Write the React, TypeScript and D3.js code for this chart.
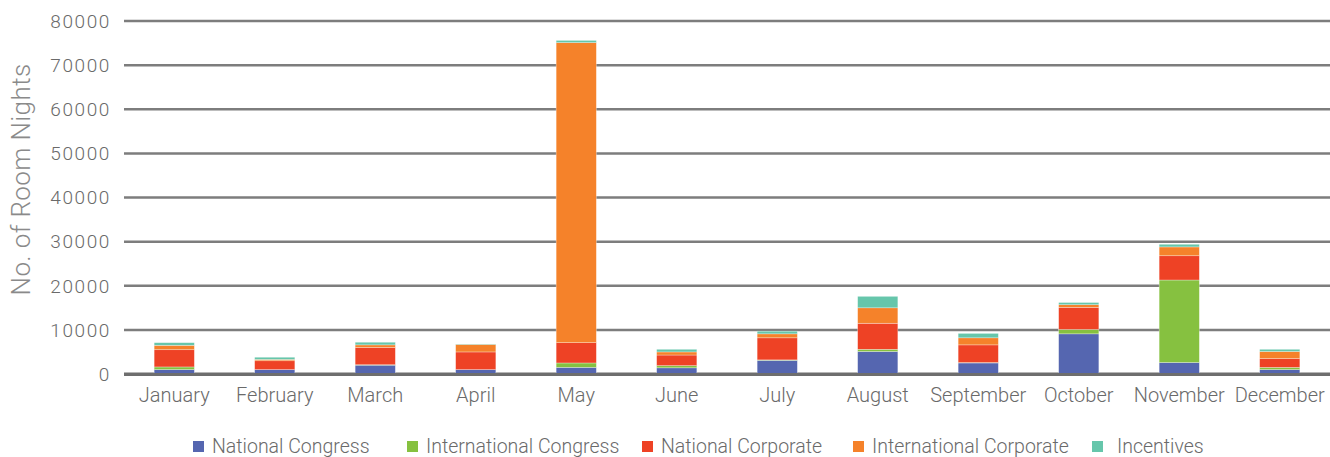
import React from 'react';
import * as d3 from 'd3';

const MONTHS = ["January", "February", "March", "April", "May", "June", "July", "August", "September", "October", "November", "December"];

const SERIES = ["National Congress", "International Congress", "National Corporate", "International Corporate", "Incentives"];
const COLORS = ["#5566b0", "#86c140", "#ee4225", "#f5822a", "#66c6ab"];

const NATIONAL_CONGRESS = [1000, 1000, 2000, 1000, 1500, 1400, 3100, 5100, 2500, 9100, 2600, 1000];
const INTERNATIONAL_CONGRESS = [600, 0, 100, 0, 1000, 500, 100, 500, 100, 1000, 18700, 500];
const NATIONAL_CORPORATE = [3900, 2000, 3900, 4000, 4600, 2400, 5000, 5900, 4000, 5000, 5500, 2000];
const INTERNATIONAL_CORPORATE = [1000, 300, 600, 1700, 68000, 700, 900, 3500, 1600, 600, 2000, 1600];
const INCENTIVES = [600, 500, 600, 100, 500, 600, 600, 2600, 1000, 500, 600, 500];

const Y_TICKS = [0, 10000, 20000, 30000, 40000, 50000, 60000, 70000, 80000];

// legend item left edges (Excel-ish uneven spacing)
const LEGEND_X = [193, 407, 642, 853, 1092];

const FONT = "Roboto, 'Liberation Sans', Arial, sans-serif";

const App: React.FC = () => {
    const width = 1330;
    const height = 457;
    const margin = { top: 21, right: 0, bottom: 83, left: 124 };
    const innerW = width - margin.left - margin.right;
    const innerH = height - margin.top - margin.bottom;

    const rows = MONTHS.map((m, i) => ({
        month: m,
        "National Congress": NATIONAL_CONGRESS[i],
        "International Congress": INTERNATIONAL_CONGRESS[i],
        "National Corporate": NATIONAL_CORPORATE[i],
        "International Corporate": INTERNATIONAL_CORPORATE[i],
        "Incentives": INCENTIVES[i],
    }));

    const stacked = d3.stack<any>().keys(SERIES)(rows);

    const x = d3.scaleBand().domain(MONTHS).range([0, innerW]).paddingInner(0.6).paddingOuter(0.3);
    const y = d3.scaleLinear().domain([0, 80000]).range([innerH, 0]);
    const color = d3.scaleOrdinal<string, string>().domain(SERIES).range(COLORS);

    return (
        <svg width={width} height={height} style={{ position: 'absolute', left: 0, top: 0, background: '#fff' }}>
            <g transform={`translate(${margin.left},${margin.top})`}>
                {Y_TICKS.map(t => (
                    <g key={t}>
                        <line x1={0} x2={innerW} y1={y(t)} y2={y(t)}
                            stroke={t === 0 ? "#6e6e6e" : "#7d7d7d"} strokeWidth={t === 0 ? 3 : 2.5} />
                        <text x={-13} y={y(t)} dy="0.36em" textAnchor="end" fontSize="19px"
                            fontFamily={FONT} fontWeight={300} fill="#6a6a6a" letterSpacing="1.6">
                            {t}
                        </text>
                    </g>
                ))}

                {stacked.map(layer => (
                    <g key={layer.key} fill={color(layer.key)}>
                        {layer.map((d, i) => (
                            d[1] - d[0] > 0 ? (
                                <rect key={i}
                                    x={x(MONTHS[i])}
                                    y={y(d[1])}
                                    width={x.bandwidth()}
                                    height={y(d[0]) - y(d[1])}
                                    stroke="#ffffff" strokeOpacity={0.5} strokeWidth={0.6} />
                            ) : null
                        ))}
                    </g>
                ))}

                <line x1={0} x2={innerW} y1={y(0) + 0.5} y2={y(0) + 0.5} stroke="#6e6e6e" strokeWidth={3} />

                {MONTHS.map(m => (
                    <text key={m} x={(x(m) || 0) + x.bandwidth() / 2} y={innerH + 28}
                        textAnchor="middle" fontSize="20px" fontFamily={FONT} fontWeight={300} fill="#6a6a6a">
                        {m}
                    </text>
                ))}

                <text transform={`translate(${-94},${innerH / 2 - 18}) rotate(-90)`} textAnchor="middle"
                    fontSize="26px" fontFamily={FONT} fontWeight={300} fill="#8a8a8a" letterSpacing="0.4">
                    No. of Room Nights
                </text>
            </g>

            <g transform={`translate(0, ${height - 4})`}>
                {SERIES.map((s, i) => (
                    <g key={s} transform={`translate(${LEGEND_X[i]},0)`}>
                        <rect x={0} y={-12} width={11} height={11} fill={COLORS[i]} />
                        <text x={i === 4 ? 25 : 19} y={0} fontSize="19.5px" fontFamily={FONT} fontWeight={300} fill="#6a6a6a">
                            {s}
                        </text>
                    </g>
                ))}
            </g>
        </svg>
    );
};

export default App;
